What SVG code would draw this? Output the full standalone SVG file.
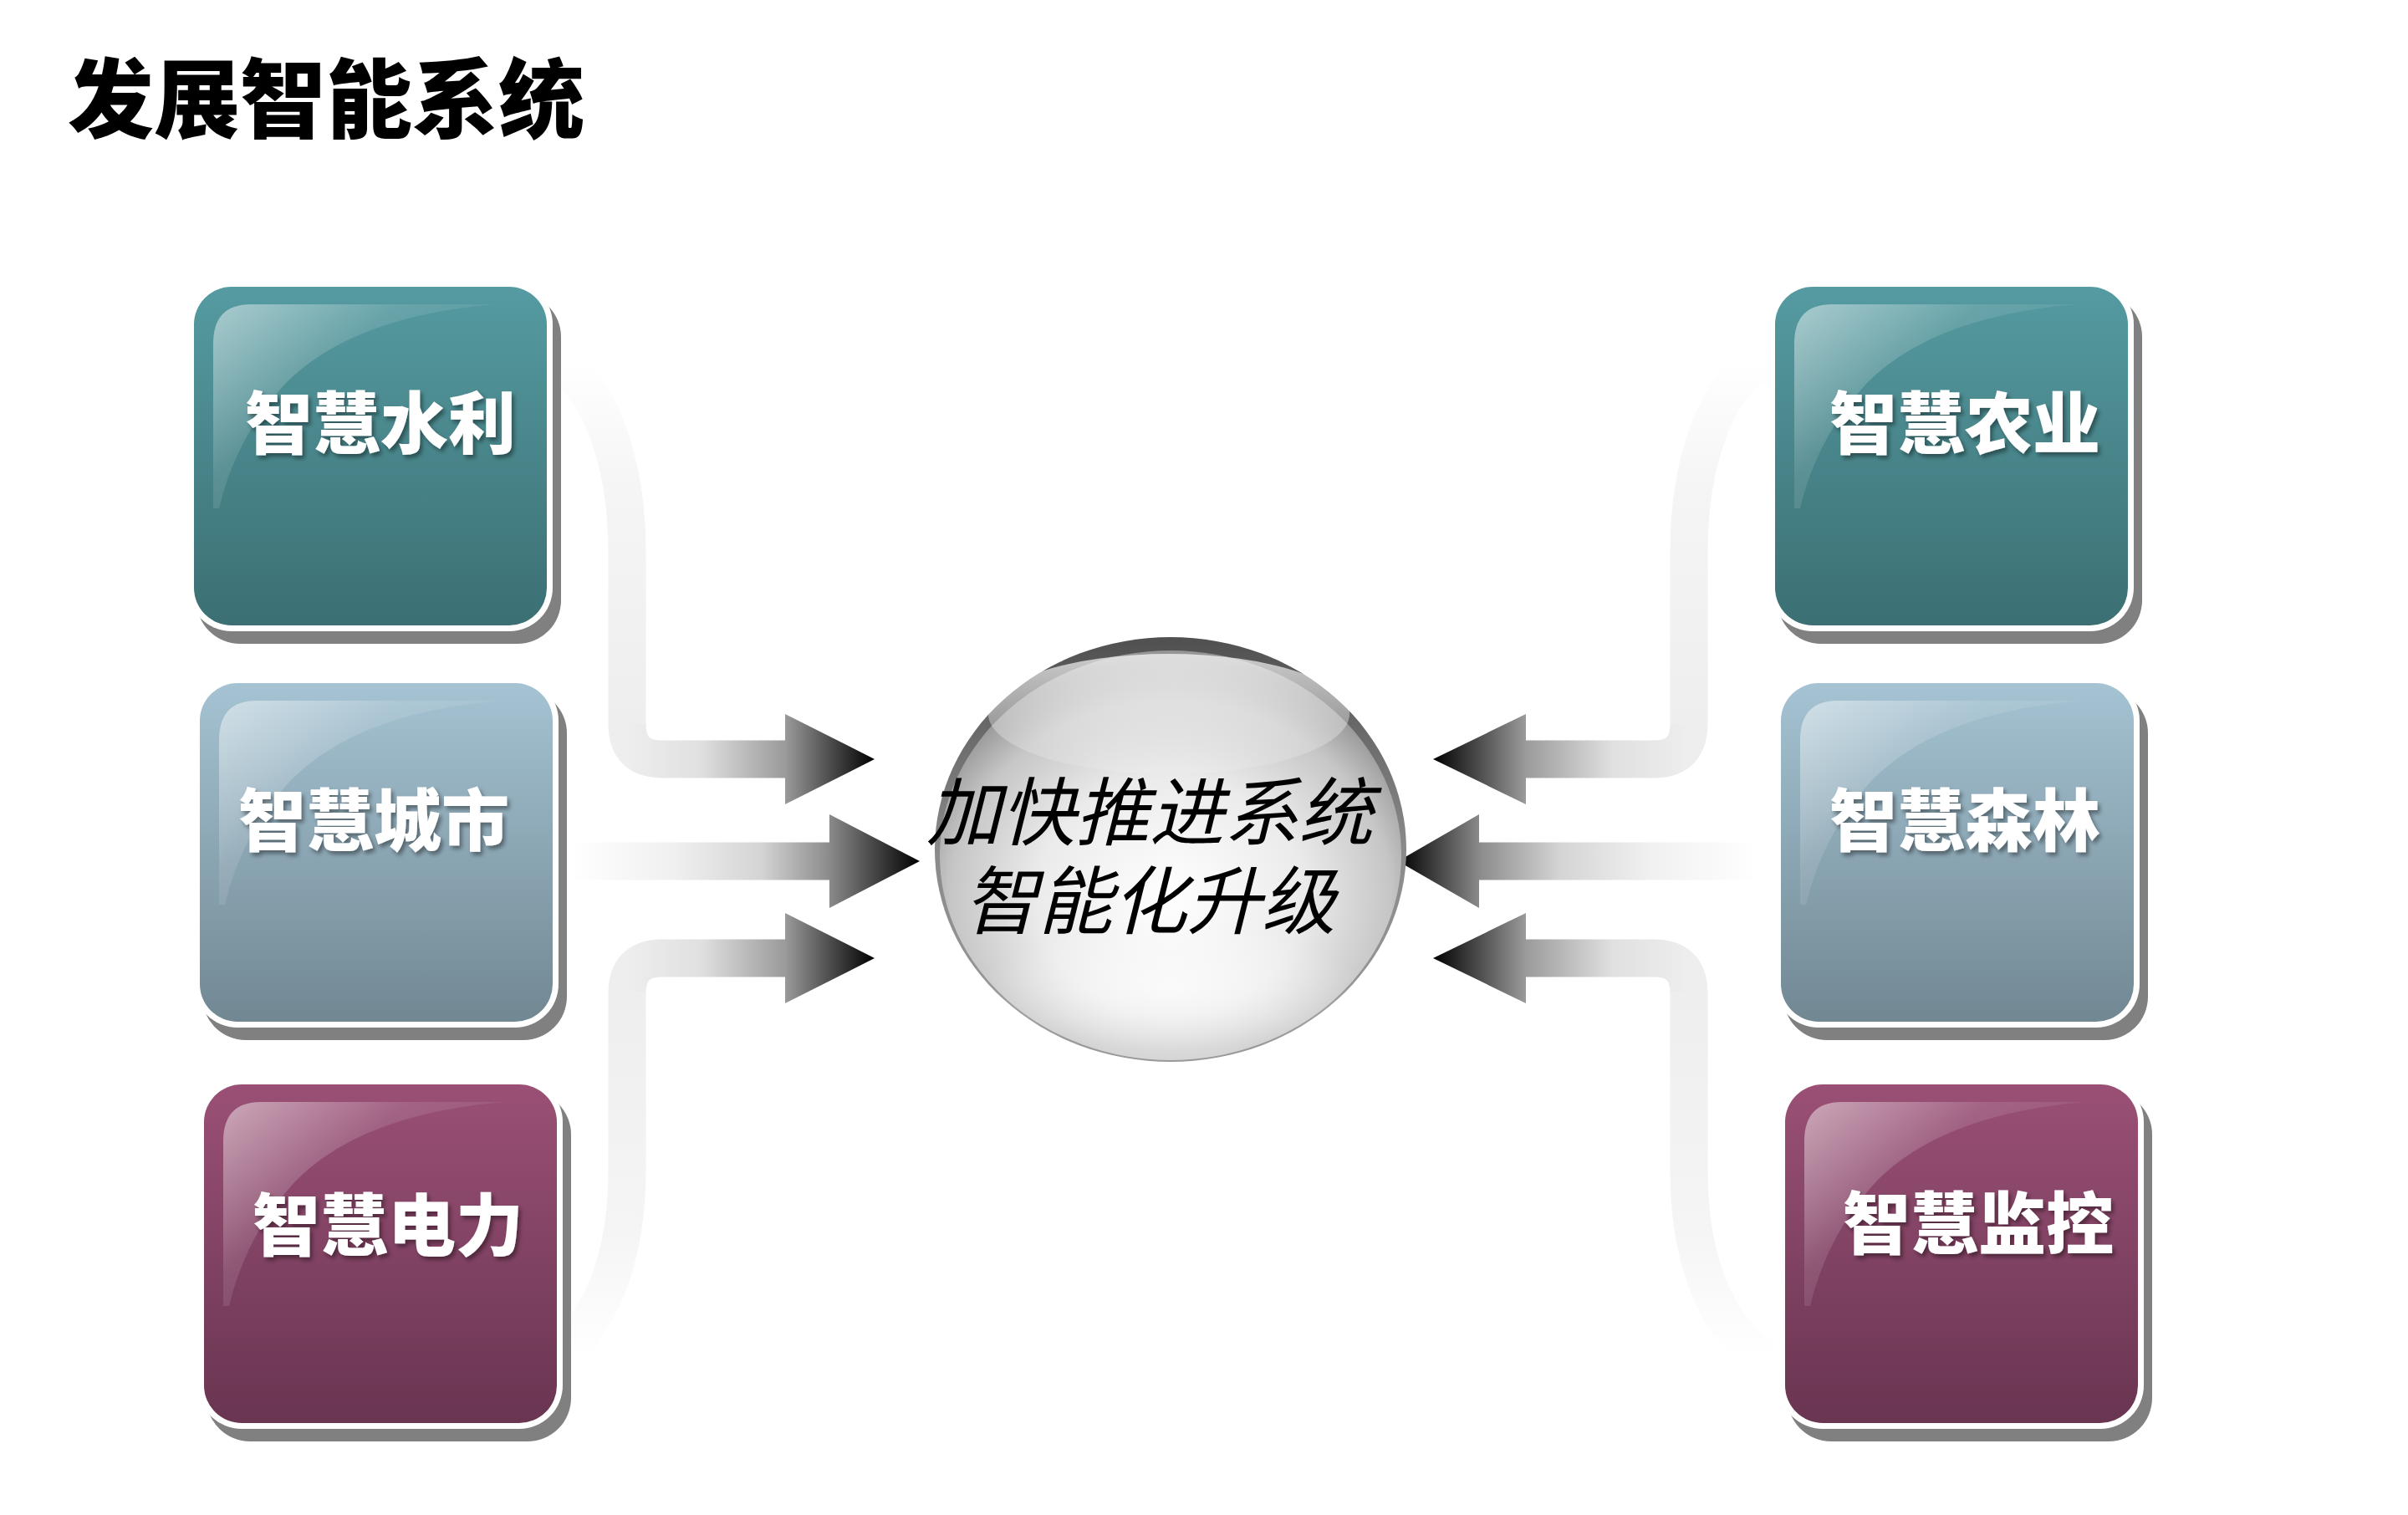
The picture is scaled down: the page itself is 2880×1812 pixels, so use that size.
<svg xmlns="http://www.w3.org/2000/svg" xmlns:xlink="http://www.w3.org/1999/xlink" width="2880" height="1812" viewBox="0 0 2880 1812">
<style>
.title{font-family:"Noto Sans CJK SC","Noto Sans",sans-serif;font-weight:900;font-size:103px;fill:#000}
.lbl{font-family:"Noto Sans CJK SC","Noto Sans",sans-serif;font-weight:900;font-size:81px;fill:#fff;text-anchor:middle}
.ctr{font-family:"Noto Sans CJK SC","Noto Sans",sans-serif;font-weight:400;font-style:italic;font-size:89px;fill:#000;text-anchor:middle}
.shadow{fill:#808080}
.rim{fill:#fff}
.band{fill:none;stroke-width:45;stroke-linecap:butt}
</style>
<defs>
<linearGradient id="gTeal" x1="0" y1="0" x2="0" y2="1"><stop offset="0" stop-color="#559ba1"/><stop offset="1" stop-color="#3b6f73"/></linearGradient>
<linearGradient id="gBlue" x1="0" y1="0" x2="0" y2="1"><stop offset="0" stop-color="#a5c3d3"/><stop offset="1" stop-color="#718893"/></linearGradient>
<linearGradient id="gPurple" x1="0" y1="0" x2="0" y2="1"><stop offset="0" stop-color="#9a5075"/><stop offset="1" stop-color="#693551"/></linearGradient>
<linearGradient id="gGloss" x1="0" y1="0" x2="0.9" y2="0.7"><stop offset="0" stop-color="#fff" stop-opacity="0.5"/><stop offset="0.45" stop-color="#fff" stop-opacity="0.12"/><stop offset="1" stop-color="#fff" stop-opacity="0"/></linearGradient>
<path id="gloss" d="M23,68 Q23,21 68,21 L360,21 Q190,35 110,115 Q50,180 30,265 L23,265 Z" fill="url(#gGloss)"/>
<filter id="ts" x="-10%" y="-20%" width="130%" height="150%"><feDropShadow dx="3" dy="4" stdDeviation="2.5" flood-color="#000" flood-opacity="0.4"/></filter>
<linearGradient id="gVL1" gradientUnits="userSpaceOnUse" x1="0" y1="430" x2="0" y2="870"><stop offset="0" stop-color="#fff"/><stop offset="0.35" stop-color="#f5f5f5"/><stop offset="1" stop-color="#eeeeee"/></linearGradient>
<linearGradient id="gVL2" gradientUnits="userSpaceOnUse" x1="0" y1="1190" x2="0" y2="1625"><stop offset="0" stop-color="#eeeeee"/><stop offset="0.65" stop-color="#f5f5f5"/><stop offset="1" stop-color="#fff"/></linearGradient>
<linearGradient id="gHL1" gradientUnits="userSpaceOnUse" x1="750" y1="0" x2="1046" y2="0"><stop offset="0" stop-color="#eeeeee"/><stop offset="0.3" stop-color="#e0e0e0"/><stop offset="0.64" stop-color="#9a9a9a"/><stop offset="1" stop-color="#000"/></linearGradient>
<linearGradient id="gHL2" gradientUnits="userSpaceOnUse" x1="680" y1="0" x2="1100" y2="0"><stop offset="0" stop-color="#fff"/><stop offset="0.3" stop-color="#f0f0f0"/><stop offset="0.55" stop-color="#d4d4d4"/><stop offset="0.74" stop-color="#8c8c8c"/><stop offset="1" stop-color="#000"/></linearGradient>
<linearGradient id="gHR1" gradientUnits="userSpaceOnUse" x1="2020" y1="0" x2="1714" y2="0"><stop offset="0" stop-color="#eeeeee"/><stop offset="0.3" stop-color="#e0e0e0"/><stop offset="0.64" stop-color="#9a9a9a"/><stop offset="1" stop-color="#000"/></linearGradient>
<linearGradient id="gHR2" gradientUnits="userSpaceOnUse" x1="2100" y1="0" x2="1672" y2="0"><stop offset="0" stop-color="#fff"/><stop offset="0.3" stop-color="#f0f0f0"/><stop offset="0.55" stop-color="#d4d4d4"/><stop offset="0.77" stop-color="#8c8c8c"/><stop offset="1" stop-color="#000"/></linearGradient>
<radialGradient id="gSphere" cx="0.5" cy="0.6" r="0.58"><stop offset="0" stop-color="#ffffff"/><stop offset="0.5" stop-color="#ebebeb"/><stop offset="0.82" stop-color="#c6c6c6"/><stop offset="1" stop-color="#959595"/></radialGradient>
<linearGradient id="gOuter" x1="0" y1="0" x2="0" y2="1"><stop offset="0" stop-color="#505050"/><stop offset="0.5" stop-color="#8a8a8a"/><stop offset="1" stop-color="#9a9a9a"/></linearGradient>
<linearGradient id="gHi" x1="0" y1="0" x2="0" y2="1"><stop offset="0" stop-color="#fff" stop-opacity="0.7"/><stop offset="1" stop-color="#fff" stop-opacity="0.1"/></linearGradient>
<radialGradient id="gLow" cx="0.5" cy="0.5" r="0.5"><stop offset="0" stop-color="#fff" stop-opacity="0.7"/><stop offset="1" stop-color="#fff" stop-opacity="0"/></radialGradient>
</defs>
<rect width="2880" height="1812" fill="#fff"/>
<g id="title"><text class="title" x="81" y="157">发展智能系统</text></g>
<g id="connectors">
<path class="band" stroke="url(#gVL1)" d="M660,430 C715,455 750,550 750,660 L750,868"/>
<path class="band" stroke="url(#gHL1)" d="M750,866 Q750,908 792,908 L945,908"/>
<polygon points="939,854 1046,908 939,962" fill="url(#gHL1)"/>
<path class="band" stroke="url(#gHL2)" d="M680,1030 L995,1030"/>
<polygon points="992,974 1100,1030 992,1086" fill="url(#gHL2)"/>
<path class="band" stroke="url(#gHL1)" d="M945,1146 L792,1146 Q750,1146 750,1188"/>
<path class="band" stroke="url(#gVL2)" d="M750,1186 L750,1400 C750,1510 715,1590 660,1625"/>
<polygon points="939,1092 1046,1146 939,1200" fill="url(#gHL1)"/>
<path class="band" stroke="url(#gVL1)" d="M2110,430 C2055,455 2020,550 2020,660 L2020,868"/>
<path class="band" stroke="url(#gHR1)" d="M2020,866 Q2020,908 1978,908 L1820,908"/>
<polygon points="1825,854 1714,908 1825,962" fill="url(#gHR1)"/>
<path class="band" stroke="url(#gHR2)" d="M2100,1030 L1765,1030"/>
<polygon points="1769,974 1672,1030 1769,1086" fill="url(#gHR2)"/>
<path class="band" stroke="url(#gHR1)" d="M1820,1146 L1978,1146 Q2020,1146 2020,1188"/>
<path class="band" stroke="url(#gVL2)" d="M2020,1186 L2020,1400 C2020,1510 2055,1590 2110,1625"/>
<polygon points="1825,1092 1714,1146 1825,1200" fill="url(#gHR1)"/>
</g>
<g id="n-shuili" transform="translate(232,343)">
<rect class="shadow" x="3" y="8" width="436" height="419" rx="52"/>
<rect class="rim" x="-7" y="-7" width="436" height="419" rx="52"/>
<rect width="422" height="405" rx="45" fill="url(#gTeal)"/>
<use xlink:href="#gloss"/>
<text class="lbl" x="223" y="193" filter="url(#ts)">智慧水利</text>
</g>
<g id="n-chengshi" transform="translate(239,817)">
<rect class="shadow" x="3" y="8" width="436" height="419" rx="52"/>
<rect class="rim" x="-7" y="-7" width="436" height="419" rx="52"/>
<rect width="422" height="405" rx="45" fill="url(#gBlue)"/>
<use xlink:href="#gloss"/>
<text class="lbl" x="208" y="194" filter="url(#ts)">智慧城市</text>
</g>
<g id="n-dianli" transform="translate(244,1297)">
<rect class="shadow" x="3" y="8" width="436" height="419" rx="52"/>
<rect class="rim" x="-7" y="-7" width="436" height="419" rx="52"/>
<rect width="422" height="405" rx="45" fill="url(#gPurple)"/>
<use xlink:href="#gloss"/>
<text class="lbl" x="220" y="198" filter="url(#ts)">智慧电力</text>
</g>
<g id="n-nongye" transform="translate(2123,343)">
<rect class="shadow" x="3" y="8" width="436" height="419" rx="52"/>
<rect class="rim" x="-7" y="-7" width="436" height="419" rx="52"/>
<rect width="422" height="405" rx="45" fill="url(#gTeal)"/>
<use xlink:href="#gloss"/>
<text class="lbl" x="227" y="193" filter="url(#ts)">智慧农业</text>
</g>
<g id="n-senlin" transform="translate(2130,817)">
<rect class="shadow" x="3" y="8" width="436" height="419" rx="52"/>
<rect class="rim" x="-7" y="-7" width="436" height="419" rx="52"/>
<rect width="422" height="405" rx="45" fill="url(#gBlue)"/>
<use xlink:href="#gloss"/>
<text class="lbl" x="220" y="194" filter="url(#ts)">智慧森林</text>
</g>
<g id="n-jiankong" transform="translate(2135,1297)">
<rect class="shadow" x="3" y="8" width="436" height="419" rx="52"/>
<rect class="rim" x="-7" y="-7" width="436" height="419" rx="52"/>
<rect width="422" height="405" rx="45" fill="url(#gPurple)"/>
<use xlink:href="#gloss"/>
<text class="lbl" x="231" y="196" filter="url(#ts)">智慧监控</text>
</g>
<g id="n-center">
<ellipse cx="1400" cy="1016" rx="282" ry="254" fill="url(#gOuter)"/>
<ellipse cx="1400" cy="1023" rx="276" ry="245" fill="url(#gSphere)"/>
<ellipse cx="1398" cy="854" rx="216" ry="72" fill="url(#gHi)"/>
<ellipse cx="1400" cy="1180" rx="225" ry="75" fill="url(#gLow)"/>
<text class="ctr"><tspan x="1375" y="1004">加快推进系统</tspan><tspan x="1375" y="1110">智能化升级</tspan></text>
</g>
</svg>
